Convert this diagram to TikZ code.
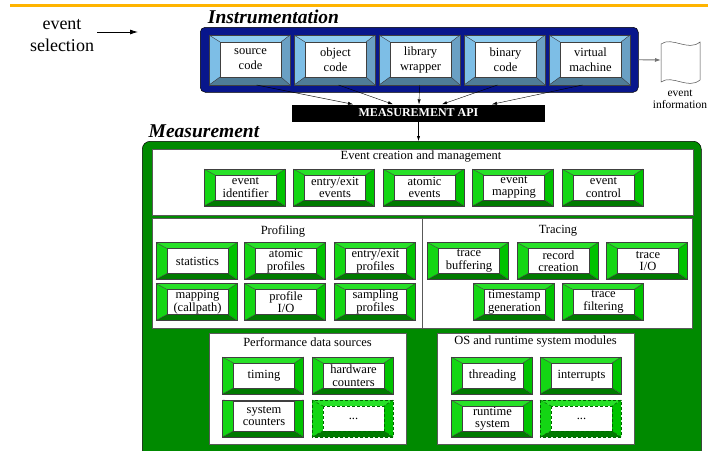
\documentclass[tikz,border=0pt]{standalone}
\usepackage{fontspec}
\setmainfont{LiberationSerif}[Extension=.ttf, UprightFont=*-Regular, BoldFont=*-Bold,
  ItalicFont=*-Italic, BoldItalicFont=*-BoldItalic]
\usetikzlibrary{calc,arrows.meta}

\definecolor{instblue}{RGB}{8,22,140}
\definecolor{btop}{RGB}{143,205,240}
\definecolor{bleft}{RGB}{125,190,230}
\definecolor{bright}{RGB}{106,160,196}
\definecolor{bbot}{RGB}{79,124,151}
\definecolor{gtop}{RGB}{40,225,40}
\definecolor{gleft}{RGB}{20,214,20}
\definecolor{gright}{RGB}{0,195,0}
\definecolor{gbot}{RGB}{0,122,0}
\definecolor{measgreen}{RGB}{0,138,0}
\definecolor{rulecol}{RGB}{255,180,0}

\tikzset{
  btnbase/.style={inner sep=0pt, outer sep=0pt},
  edge/.style={draw=black!75, line width=0.4pt},
  dashedge/.style={draw=black!60!green, densely dashed, line width=0.5pt},
  lblb/.style={font=\rmfamily\fontsize{12.5}{15}\selectfont, align=center, inner sep=0pt},
  lblg/.style={font=\rmfamily\fontsize{12.5}{12.5}\selectfont, align=center, inner sep=0pt},
  panel/.style={draw=black!65, fill=white, line width=0.5pt, inner sep=0pt, anchor=north west},
  ptitle/.style={font=\rmfamily\fontsize{12.5}{14}\selectfont, inner sep=0pt},
  heading/.style={font=\rmfamily\bfseries\itshape\fontsize{19.5}{20}\selectfont, inner sep=0pt},
  arr/.style={-{Latex[length=5pt,width=3.2pt]}, line width=0.4pt},
  bigarr/.style={-{Latex[length=8pt,width=5pt]}, line width=0.8pt}
}

% bevelled button: name, cx, cy, text, scheme (b/g), top bevel, outline style
\newcommand\bvbtn[7]{%
  \path (#2,#3) node[btnbase, minimum width=\bw, minimum height=\bh] (#1) {};
  \coordinate (#1-nw) at ([shift={(\bL,#6)}]#1.north west);
  \coordinate (#1-se) at ([shift={(-\bR,-\bB)}]#1.south east);
  \coordinate (#1-ne) at (#1-se |- #1-nw);
  \coordinate (#1-sw) at (#1-nw |- #1-se);
  \fill[fill=#5top] (#1.north west) -- (#1.north east) -- (#1-ne) -- (#1-nw) -- cycle;
  \fill[fill=#5left] (#1.north west) -- (#1-nw) -- (#1-sw) -- (#1.south west) -- cycle;
  \fill[fill=#5right] (#1.north east) -- (#1.south east) -- (#1-se) -- (#1-ne) -- cycle;
  \fill[fill=#5bot] (#1.south west) -- (#1-sw) -- (#1-se) -- (#1.south east) -- cycle;
  \draw[edge,#7] (#1.north west) -- (#1-nw) (#1.north east) -- (#1-ne)
                 (#1.south west) -- (#1-sw) (#1.south east) -- (#1-se);
  \draw[edge,#7] (#1.north west) rectangle (#1.south east);
  \draw[edge,#7,fill=white] (#1-nw) rectangle (#1-se);
  \node[lbl#5] (#1-t) at ($(#1-nw)!.5!(#1-se)$) {#4};
}
\newcommand\bluesizes{\def\bw{81pt}\def\bh{50pt}\def\bL{11}\def\bR{9}\def\bB{8}}
\newcommand\greensizes{\def\bw{81pt}\def\bh{37pt}\def\bL{11}\def\bR{9}\def\bB{6}}

\begin{document}
\begin{tikzpicture}[x=1pt, y=-1pt]
\useasboundingbox (0,0) rectangle (708,450);
\clip (0,0) rectangle (708,450);
\fill[white] (0,0) rectangle (708,450);

% header rule
\draw[rulecol, line width=3pt] (10,5) -- (708,5);

% event selection
\node[font=\rmfamily\fontsize{18}{22}\selectfont, align=center, inner sep=0pt] (sel) at (62,36) {event\\selection};
\coordinate (selA) at (97,32);
\coordinate (selB) at (138,32);
\draw[bigarr] (selA) -- (selB);

% ---------------- Instrumentation ----------------
\node[heading] (insttitle) at (273.5,17) {Instrumentation};
\node[draw=black, line width=0.5pt, fill=instblue, rounded corners=5pt, anchor=north west,
      minimum width=438pt, minimum height=65pt, inner sep=0pt] (inst) at (200,27) {};

\bluesizes
\bvbtn{src}{249.5}{60}{source\\code}{b}{7}{}
\bvbtn{obj}{334.5}{60}{object\\code}{b}{7}{}
\bvbtn{lib}{419.5}{60}{library\\wrapper}{b}{7}{}
\bvbtn{bin}{504.5}{60}{binary\\code}{b}{7}{}
\bvbtn{vm}{589.5}{60}{virtual\\machine}{b}{7}{}

% event information document
\coordinate (docL) at (661,60);
\draw[black!70, line width=0.5pt, fill=white]
  (661,44) .. controls (672,36) and (688,52) .. (700,42) -- (700,80)
  .. controls (688,90) and (672,74) .. (661,82) -- cycle;
\draw[-{Latex[length=6pt,width=4pt]}, black!55, line width=0.9pt] (inst.east) -- (docL);
\node[font=\rmfamily\fontsize{11.5}{12}\selectfont, align=center, inner sep=0pt] (docinfo) at (680,99) {event\\information};

% measurement API
\node[fill=black, text=white, font=\rmfamily\bfseries\fontsize{12}{12}\selectfont,
      minimum width=253pt, minimum height=17pt, inner sep=0pt] (api) at (418.5,113) {MEASUREMENT API};
\draw[arr] ([xshift=7pt]src.south) -- ([xshift=-65.5pt]api.north);
\draw[arr] ([xshift=4pt]obj.south) -- ([xshift=-25.5pt]api.north);
\draw[arr] (lib.south) -- ([xshift=0.5pt]api.north);
\draw[arr] ([xshift=-7pt]bin.south) -- ([xshift=23.5pt]api.north);
\draw[arr] ([xshift=-7pt]vm.south) -- ([xshift=73.5pt]api.north);

% ---------------- Measurement ----------------
\node[heading] (meastitle) at (204,131) {Measurement};
\node[draw=black, line width=0.5pt, fill=measgreen, rounded corners=8pt, anchor=north west,
      minimum width=559pt, minimum height=330pt, inner sep=0pt] (meas) at (142,141) {};
\draw[arr] (api.south) -- (api.south |- meas.north);

% event creation and management
\node[panel, minimum width=541pt, minimum height=66pt] (ecm) at (152,149) {};
\node[ptitle] (ecmt) at (421,157) {Event creation and management};
\greensizes
\bvbtn{eid}{244.5}{187.5}{event\\identifier}{g}{6}{}
\bvbtn{eee}{334}{187.5}{entry/exit\\events}{g}{6}{}
\bvbtn{aev}{423.5}{187.5}{atomic\\events}{g}{6}{}
\bvbtn{emap}{513}{187.5}{event\\mapping}{g}{6}{}
\bvbtn{ectl}{602.5}{187.5}{event\\control}{g}{6}{}

% profiling and tracing
\node[panel, minimum width=540pt, minimum height=110pt] (pt) at (152,218) {};
\coordinate (divT) at (422,218);
\coordinate (divB) at (422,328);
\draw[black!65, line width=0.5pt] (divT) -- (divB);
\node[ptitle] (proft) at (283,231) {Profiling};
\node[ptitle] (tract) at (558,231) {Tracing};

\bvbtn{stat}{196.5}{261}{statistics}{g}{6}{}
\bvbtn{aprof}{285}{261}{atomic\\profiles}{g}{6}{}
\bvbtn{eprof}{374.5}{261}{entry/exit\\profiles}{g}{6}{}
\bvbtn{mapc}{196.5}{302}{mapping\\(callpath)}{g}{6}{}
\bvbtn{pio}{285}{302}{profile\\I/O}{g}{6}{}
\bvbtn{sprof}{374.5}{302}{sampling\\profiles}{g}{6}{}

\bvbtn{tbuf}{468}{261}{trace\\buffering}{g}{6}{}
\bvbtn{rcre}{557.5}{261}{record\\creation}{g}{6}{}
\bvbtn{tio}{647}{261}{trace\\I/O}{g}{6}{}
\bvbtn{tsg}{513.5}{302}{timestamp\\generation}{g}{6}{}
\bvbtn{tfil}{602.5}{302}{trace\\filtering}{g}{6}{}

% performance data sources
\node[panel, minimum width=197pt, minimum height=111pt] (pds) at (209,333) {};
\node[ptitle] (pdst) at (307.5,342) {Performance data sources};
\bvbtn{tim}{263}{375.5}{timing}{g}{6}{}
\bvbtn{hwc}{352.5}{375.5}{hardware\\counters}{g}{6}{}
\bvbtn{syc}{263}{418.5}{system\\counters}{g}{1}{}
\bvbtn{pmore}{352.5}{418.5}{...}{g}{6}{dashedge}

% OS and runtime system modules
\node[panel, minimum width=197pt, minimum height=111pt] (osr) at (437,333) {};
\node[ptitle] (osrt) at (535.5,342) {OS and runtime system modules};
\bvbtn{thr}{491.5}{375.5}{threading}{g}{6}{}
\bvbtn{intr}{580.5}{375.5}{interrupts}{g}{6}{}
\bvbtn{rts}{491.5}{418.5}{runtime\\system}{g}{6}{}
\bvbtn{omore}{580.5}{418.5}{...}{g}{6}{dashedge}
\end{tikzpicture}
\end{document}
